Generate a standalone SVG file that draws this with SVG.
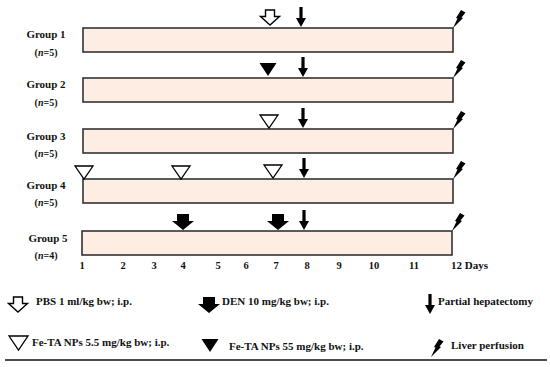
<svg xmlns="http://www.w3.org/2000/svg" xmlns:xlink="http://www.w3.org/1999/xlink" width="550" height="367" viewBox="0 0 550 367">
<style>
text{font-family:"Liberation Serif","Times New Roman",serif;font-weight:bold;font-size:11px;fill:#111}
.g{text-anchor:middle}
.n{text-anchor:middle;font-size:10px}
.bar{fill:#fdede3;stroke:#333;stroke-width:1.6}
.day{text-anchor:middle;font-size:10.5px}
</style>
<defs>
<path id="ph" d="M-1.6,-20 H1.6 V-9 H5 L0,0 L-5,-9 H-1.6 Z" fill="#000"/>
<path id="pbs" d="M-4.5,-15 H4.5 V-8.5 H9.5 L0,0 L-9.5,-8.5 H-4.5 Z" fill="#fff" stroke="#000" stroke-width="1.4" stroke-linejoin="miter"/>
<path id="den" d="M-6,-16 H6 V-9 H11 L0,0 L-11,-9 H-6 Z" fill="#000"/>
<path id="tri" d="M-9,-13 H9 L0,0 Z" fill="#fff" stroke="#000" stroke-width="1.3"/>
<path id="ftri" d="M-8.5,-13 H8.5 L0,0 Z" fill="#000"/>
<path id="bolt" d="M0,0 L4.5,-9.5 L3,-10 L8,-18 L12.5,-15.5 L8.5,-10.5 L10,-10 Z" fill="#000"/>
</defs>

<g id="group1">
<rect class="bar" x="83" y="28" width="370" height="24"/>
<text class="g" x="46" y="38">Group 1</text>
<text class="n" x="46" y="56">(<tspan font-style="italic">n</tspan>=5)</text>
</g>
<g id="group2">
<rect class="bar" x="83" y="78" width="370" height="24"/>
<text class="g" x="46" y="88">Group 2</text>
<text class="n" x="46" y="106">(<tspan font-style="italic">n</tspan>=5)</text>
</g>
<g id="group3">
<rect class="bar" x="83" y="129" width="370" height="24"/>
<text class="g" x="46" y="140">Group 3</text>
<text class="n" x="46" y="157">(<tspan font-style="italic">n</tspan>=5)</text>
</g>
<g id="group4">
<rect class="bar" x="83" y="179" width="370" height="24"/>
<text class="g" x="46" y="189">Group 4</text>
<text class="n" x="46" y="206">(<tspan font-style="italic">n</tspan>=5)</text>
</g>
<g id="group5">
<rect class="bar" x="82" y="231" width="370" height="24"/>
<text class="g" x="48" y="242">Group 5</text>
<text class="n" x="46" y="259">(<tspan font-style="italic">n</tspan>=4)</text>
</g>

<g id="markers">
<use xlink:href="#pbs" x="270" y="25"/>
<use xlink:href="#ph" x="301" y="27"/>
<use xlink:href="#bolt" x="453" y="28"/>

<use xlink:href="#ftri" x="268" y="76"/>
<use xlink:href="#ph" x="303" y="77"/>
<use xlink:href="#bolt" x="453" y="78"/>

<use xlink:href="#tri" x="269" y="128"/>
<use xlink:href="#ph" x="303" y="128"/>
<use xlink:href="#bolt" x="453" y="129"/>

<use xlink:href="#tri" x="84" y="179"/>
<use xlink:href="#tri" x="181" y="179"/>
<use xlink:href="#tri" x="273" y="178"/>
<use xlink:href="#ph" x="304" y="178"/>
<use xlink:href="#bolt" x="453" y="179"/>

<use xlink:href="#den" x="183" y="230"/>
<use xlink:href="#den" x="278" y="230"/>
<use xlink:href="#ph" x="304" y="230"/>
<use xlink:href="#bolt" x="452" y="231"/>
</g>

<g id="days">
<text class="day" x="82" y="269">1</text>
<text class="day" x="123" y="269">2</text>
<text class="day" x="154" y="269">3</text>
<text class="day" x="183" y="269">4</text>
<text class="day" x="218" y="269">5</text>
<text class="day" x="246" y="269">6</text>
<text class="day" x="276" y="269">7</text>
<text class="day" x="307" y="269">8</text>
<text class="day" x="339" y="269">9</text>
<text class="day" x="374" y="269">10</text>
<text class="day" x="414" y="269">11</text>
<text x="451" y="269" font-size="10.5">12 Days</text>
</g>

<g id="legend">
<use xlink:href="#pbs" x="18" y="312"/>
<text x="36" y="305">PBS 1 ml/kg bw; i.p.</text>
<use xlink:href="#den" x="209" y="313"/>
<text x="222" y="305">DEN 10 mg/kg bw; i.p.</text>
<use xlink:href="#ph" x="430" y="314"/>
<text x="438" y="305">Partial hepatectomy</text>
<path d="M9,336 H28 L18.5,350 Z" fill="#fff" stroke="#000" stroke-width="1.3"/>
<text x="32" y="346">Fe-TA NPs 5.5 mg/kg bw; i.p.</text>
<use xlink:href="#ftri" x="210" y="352"/>
<text x="229" y="350">Fe-TA NPs 55 mg/kg bw; i.p.</text>
<use xlink:href="#bolt" x="431" y="357"/>
<text x="451" y="349">Liver perfusion</text>
<line x1="5" y1="360" x2="547" y2="360" stroke="#111" stroke-width="1.6"/>
</g>
</svg>
